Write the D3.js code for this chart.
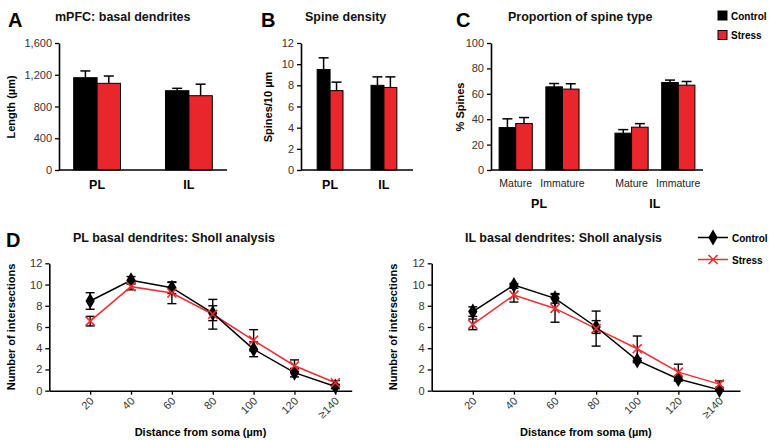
<!DOCTYPE html>
<html>
<head>
<meta charset="utf-8">
<script src="https://cdn.jsdelivr.net/npm/d3@7"></script>
<style>
  body { margin: 0; background: #fff; }
  text { font-family: "Liberation Sans", Arial, sans-serif; }
</style>
</head>
<body>
<div id="chart"></div>
<script>
// ---- data ----
const groups = ['PL', 'IL']
const conditions = ['Control', 'Stress']

// A: basal dendrite length (µm)
const lengthMean = { Control: [1163, 999], Stress: [1092, 936] }
const lengthErr = { Control: [85, 30], Stress: [92, 145] }

// B: spine density (spines / 10 µm)
const densityMean = { Control: [9.5, 8.0], Stress: [7.5, 7.8] }
const densityErr = { Control: [1.1, 0.8], Stress: [0.8, 1.0] }

// C: proportion of spine type (%)
const spineTypes = ['Mature', 'Immature']
const typeMean = { Control: [[33.4, 65.5], [29.0, 68.9]], Stress: [[36.6, 63.7], [33.7, 66.8]] }
const typeErr = { Control: [[6.9, 2.6], [2.8, 1.9]], Stress: [[4.7, 4.2], [2.8, 2.9]] }

// D: Sholl analysis
const shollDist = [20, 40, 60, 80, 100, 120, 140]
const shollLabels = ['20', '40', '60', '80', '100', '120', '≥140']
const plControl = [8.45, 10.4, 9.7, 7.3, 3.9, 1.7, 0.4]
const plControlErr = [0.78, 0.35, 0.55, 0.7, 0.7, 0.4, 0.2]
const plStress = [6.55, 9.8, 9.2, 7.2, 4.75, 2.35, 0.75]
const plStressErr = [0.45, 0.3, 1.0, 1.4, 1.0, 0.55, 0.2]
const ilControl = [7.45, 9.95, 8.7, 6.0, 2.85, 1.1, 0.08]
const ilControlErr = [0.45, 0.15, 0.45, 0.6, 0.2, 0.2, 0.1]
const ilStress = [6.25, 9.0, 7.75, 5.85, 3.95, 1.75, 0.62]
const ilStressErr = [0.5, 0.65, 1.3, 1.65, 1.2, 0.75, 0.3]

const colors = { Control: '#000000', Stress: '#e8262b' }

const svg = d3.select('#chart').append('svg')
  .attr('width', 769).attr('height', 440)

function panelLetter(x, y, s){
  svg.append('text').attr('x', x).attr('y', y).text(s)
    .attr('font-size', 20).attr('font-weight', 'bold')
}
function title(x, y, s){
  svg.append('text').attr('x', x).attr('y', y).text(s)
    .attr('font-size', 12.5).attr('font-weight', 'bold').attr('fill', '#111')
}
function yLabel(x, yc, s){
  svg.append('text').attr('transform', `translate(${x},${yc}) rotate(-90)`)
    .attr('text-anchor', 'middle').attr('font-size', 11).attr('font-weight', 'bold').text(s)
}

function yAxis(g, y, ticks, fmt){
  const ax = g.append('g').attr('transform', `translate(${y.x0},0)`)
    .call(d3.axisLeft(y).tickValues(ticks).tickSize(4).tickSizeOuter(0).tickFormat(fmt || d3.format('d')))
  ax.select('.domain').attr('stroke-width', 1.6)
  ax.selectAll('.tick line').attr('stroke-width', 1.3)
  ax.selectAll('.tick text').attr('font-size', 11).attr('fill', '#333')
    .style('font-family', '"Liberation Sans", Arial, sans-serif')
}

function errBar(g, cx, top, base, cap){
  g.append('line').attr('x1', cx).attr('x2', cx).attr('y1', base).attr('y2', top)
    .attr('stroke', '#000').attr('stroke-width', 1.5)
  g.append('line').attr('x1', cx - cap).attr('x2', cx + cap).attr('y1', top).attr('y2', top)
    .attr('stroke', '#000').attr('stroke-width', 1.5)
}

// simple two-group bar chart (A and B)
function barPanel(opts){
  const g = svg.append('g')
  const y = d3.scaleLinear().domain([0, opts.max]).range([170, 43])
  y.x0 = opts.axisX
  const x = d3.scaleBand().domain(groups).range([opts.axisX, opts.axisEnd])
    .paddingInner(opts.padIn).paddingOuter(opts.padOut)
  const xs = d3.scaleBand().domain(conditions).range([0, x.bandwidth()])

  groups.forEach((grp, gi) => {
    conditions.forEach(c => {
      const v = opts.mean[c][gi], e = opts.err[c][gi]
      const bx = x(grp) + xs(c)
      errBar(g, bx + xs.bandwidth() / 2, y(v + e), y(v), 5)
      g.append('rect').attr('x', bx).attr('y', y(v))
        .attr('width', xs.bandwidth()).attr('height', y(0) - y(v))
        .attr('fill', colors[c]).attr('stroke', '#000').attr('stroke-width', 1)
    })
    g.append('text').attr('x', x(grp) + x.bandwidth() / 2).attr('y', 189)
      .attr('text-anchor', 'middle').attr('font-size', 12.5).attr('font-weight', 'bold').text(grp)
  })
  g.append('line').attr('x1', opts.axisX).attr('x2', opts.axisEnd).attr('y1', y(0)).attr('y2', y(0))
    .attr('stroke', '#000').attr('stroke-width', 1.6)
  yAxis(g, y, opts.ticks, opts.fmt)
}

// A
panelLetter(8, 27, 'A')
title(55, 21, 'mPFC: basal dendrites')
yLabel(15, 107, 'Length (µm)')
barPanel({ axisX: 59, axisEnd: 227, max: 1600, ticks: [0, 400, 800, 1200, 1600],
  fmt: d3.format(','), mean: lengthMean, err: lengthErr, padIn: 0.49, padOut: 0.16 })

// B
panelLetter(261, 27, 'B')
title(305, 21, 'Spine density')
yLabel(272, 107, 'Spines/10 µm')
barPanel({ axisX: 301, axisEnd: 413, max: 12, ticks: [0, 2, 4, 6, 8, 10, 12],
  mean: densityMean, err: densityErr, padIn: 0.52, padOut: 0.3 })

// C
panelLetter(456, 27, 'C')
title(508, 21, 'Proportion of spine type')
yLabel(464, 107, '% Spines')
{
  const g = svg.append('g')
  const y = d3.scaleLinear().domain([0, 100]).range([170, 43])
  y.x0 = 491
  const x = d3.scaleBand().domain(groups).range([491, 703]).paddingInner(0.31).paddingOuter(0.07)
  const xt = d3.scaleBand().domain(spineTypes).range([0, x.bandwidth()]).paddingInner(0.29)
  const xs = d3.scaleBand().domain(conditions).range([0, xt.bandwidth()])
  groups.forEach((grp, gi) => {
    spineTypes.forEach((t, ti) => {
      conditions.forEach(c => {
        const v = typeMean[c][gi][ti], e = typeErr[c][gi][ti]
        const bx = x(grp) + xt(t) + xs(c)
        errBar(g, bx + xs.bandwidth() / 2, y(v + e), y(v), 5)
        g.append('rect').attr('x', bx).attr('y', y(v))
          .attr('width', xs.bandwidth()).attr('height', y(0) - y(v))
          .attr('fill', colors[c]).attr('stroke', '#000').attr('stroke-width', 1)
      })
      g.append('text').attr('x', x(grp) + xt(t) + xt.bandwidth() / 2).attr('y', 187)
        .attr('text-anchor', 'middle').attr('font-size', 10.5).attr('fill', '#222').text(t)
    })
    g.append('text').attr('x', x(grp) + x.bandwidth() / 2).attr('y', 208)
      .attr('text-anchor', 'middle').attr('font-size', 12.5).attr('font-weight', 'bold').text(grp)
  })
  g.append('line').attr('x1', 491).attr('x2', 703).attr('y1', y(0)).attr('y2', y(0))
    .attr('stroke', '#000').attr('stroke-width', 1.6)
  yAxis(g, y, [0, 20, 40, 60, 80, 100])
}

// bar legend
conditions.forEach((c, i) => {
  const ly = 11 + i * 19.5
  svg.append('rect').attr('x', 718).attr('y', ly).attr('width', 9).attr('height', 9)
    .attr('fill', colors[c]).attr('stroke', '#000').attr('stroke-width', 1)
  svg.append('text').attr('x', 731).attr('y', ly + 8.5).text(c)
    .attr('font-size', 10).attr('font-weight', 'bold')
})

// D: Sholl panels
const diamond = d3.symbol().type(d3.symbolDiamond).size(75)

function shollPanel(opts){
  const g = svg.append('g')
  const y = d3.scaleLinear().domain([0, 12]).range([390.7, 263.3])
  y.x0 = opts.axisX
  const x = d3.scaleLinear().domain([0, opts.xmax]).range([opts.axisX, opts.axisEnd])

  // x axis
  const xa = g.append('g').attr('transform', `translate(0,${y(0)})`)
    .call(d3.axisBottom(x).tickValues(shollDist).tickSize(4).tickSizeOuter(0)
      .tickFormat((d, i) => shollLabels[i]))
  xa.select('.domain').attr('stroke-width', 1.6)
  xa.selectAll('.tick line').attr('stroke-width', 1.3)
  xa.selectAll('.tick text').attr('font-size', 11).attr('fill', '#333')
    .style('font-family', '"Liberation Sans", Arial, sans-serif')
    .attr('text-anchor', 'end').attr('dy', null).attr('y', 0)
    .attr('transform', 'translate(4,11) rotate(-45)')
  yAxis(g, y, [0, 2, 4, 6, 8, 10, 12])

  const line = d3.line().x((d, i) => x(shollDist[i])).y(d => y(d))
  const series = [
    { name: 'Stress', mean: opts.stress, err: opts.stressErr },
    { name: 'Control', mean: opts.control, err: opts.controlErr }
  ]
  series.forEach(s => {
    s.mean.forEach((v, i) => {
      const cx = x(shollDist[i])
      const lo = y(v - s.err[i]), hi = y(v + s.err[i])
      g.append('line').attr('x1', cx).attr('x2', cx).attr('y1', lo).attr('y2', hi)
        .attr('stroke', '#000').attr('stroke-width', 1.4)
      ;[lo, hi].forEach(yy => g.append('line').attr('x1', cx - 4.5).attr('x2', cx + 4.5)
        .attr('y1', yy).attr('y2', yy).attr('stroke', '#000').attr('stroke-width', 1.4))
    })
  })
  series.forEach(s => {
    g.append('path').datum(s.mean).attr('d', line).attr('fill', 'none')
      .attr('stroke', s.name === 'Control' ? '#000' : '#ee2d2f').attr('stroke-width', 1.5)
  })
  // markers
  opts.control.forEach((v, i) => {
    g.append('path').attr('d', diamond)
      .attr('transform', `translate(${x(shollDist[i])},${y(v)})`).attr('fill', '#000')
  })
  opts.stress.forEach((v, i) => {
    const cx = x(shollDist[i]), cy = y(v), r = 4.5
    g.append('path').attr('d', `M${cx - r},${cy - r}L${cx + r},${cy + r}M${cx - r},${cy + r}L${cx + r},${cy - r}`)
      .attr('stroke', '#ee2d2f').attr('stroke-width', 1.6)
  })

  svg.append('text').attr('x', (opts.axisX + opts.axisEnd) / 2).attr('y', 436)
    .attr('text-anchor', 'middle').attr('font-size', 11).attr('font-weight', 'bold')
    .text('Distance from soma (µm)')
}

panelLetter(6, 247, 'D')
title(73, 242, 'PL basal dendrites: Sholl analysis')
yLabel(15, 327, 'Number of intersections')
shollPanel({ axisX: 49.3, axisEnd: 351.7, xmax: 148,
  control: plControl, controlErr: plControlErr, stress: plStress, stressErr: plStressErr })

title(465, 242, 'IL basal dendrites: Sholl analysis')
yLabel(397, 327, 'Number of intersections')
shollPanel({ axisX: 431.7, axisEnd: 740, xmax: 150,
  control: ilControl, controlErr: ilControlErr, stress: ilStress, stressErr: ilStressErr })

// Sholl legend
conditions.forEach((c, i) => {
  const ly = 237.5 + i * 22
  const col = c === 'Control' ? '#000' : '#ee2d2f'
  svg.append('line').attr('x1', 698).attr('x2', 728).attr('y1', ly).attr('y2', ly)
    .attr('stroke', col).attr('stroke-width', 1.5)
  if (c === 'Control') {
    svg.append('path').attr('d', diamond).attr('transform', `translate(713,${ly})`).attr('fill', '#000')
  } else {
    const r = 4.5
    svg.append('path').attr('d', `M${713 - r},${ly - r}L${713 + r},${ly + r}M${713 - r},${ly + r}L${713 + r},${ly - r}`)
      .attr('stroke', col).attr('stroke-width', 1.6)
  }
  svg.append('text').attr('x', 732).attr('y', ly + 4).text(c)
    .attr('font-size', 10).attr('font-weight', 'bold')
})
</script>
</body>
</html>
